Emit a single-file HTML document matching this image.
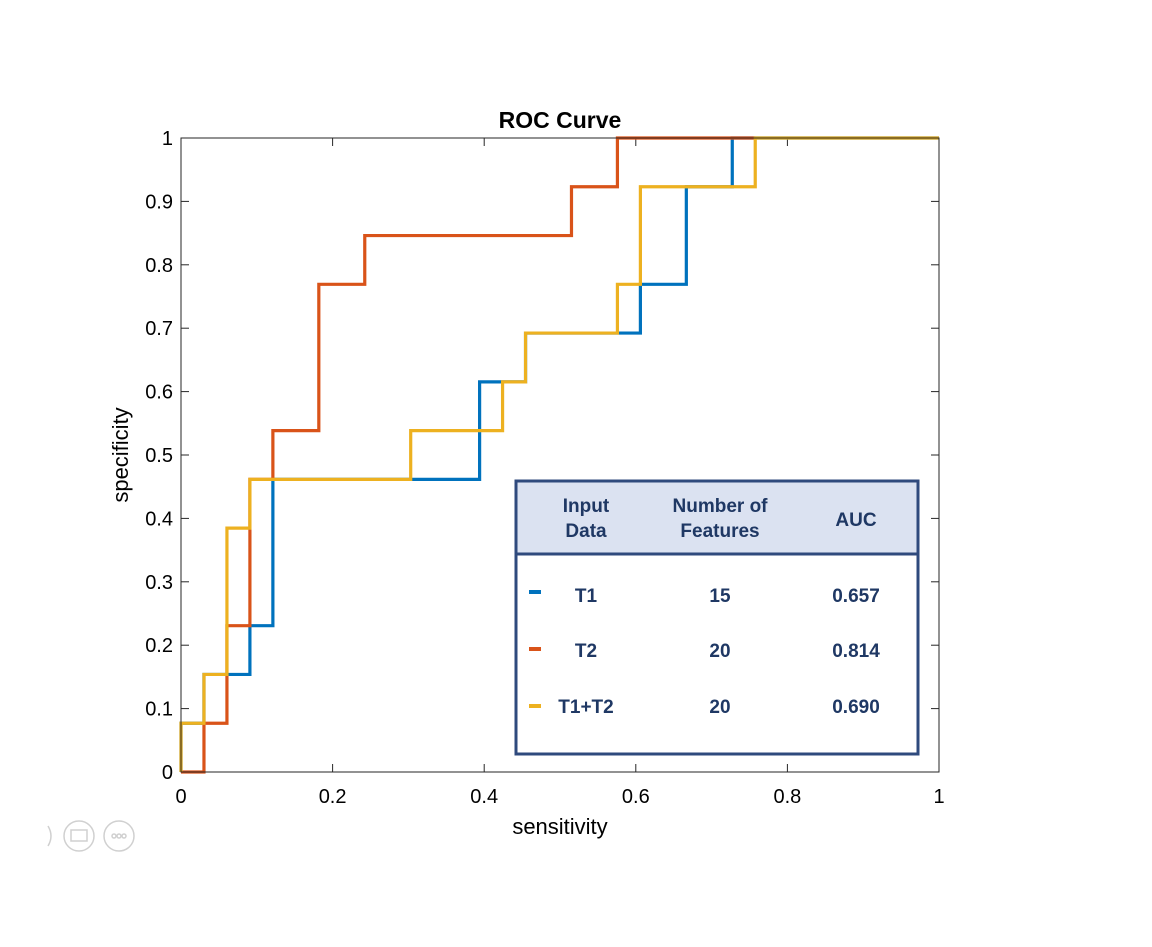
<!DOCTYPE html>
<html><head><meta charset="utf-8"><style>
body{margin:0;background:#fff;}
svg text{font-family:"Liberation Sans",sans-serif;}
</style></head><body>
<svg id="chart" width="1152" height="942" xmlns="http://www.w3.org/2000/svg">
<text x="560" y="128" text-anchor="middle" font-size="23" font-weight="bold">ROC Curve</text>
<g id="ticks"></g>
<g id="series"></g>
<rect x="181" y="138" width="758" height="634" fill="none" stroke="#262626" stroke-width="1"/>
<text x="560" y="834" text-anchor="middle" font-size="22">sensitivity</text>
<text transform="translate(128,455) rotate(-90)" text-anchor="middle" font-size="22">specificity</text>
<g font-weight="bold" fill="#1f3864">
<rect x="516" y="481" width="402" height="73" fill="#dbe2f1"/>
<rect x="516" y="481" width="402" height="273" fill="none" stroke="#2f4a7d" stroke-width="3"/>
<line x1="516" y1="554" x2="918" y2="554" stroke="#2f4a7d" stroke-width="3"/>
<text x="586" y="512" text-anchor="middle" font-size="19" fill="#1f3864">Input</text>
<text x="586" y="537" text-anchor="middle" font-size="19" fill="#1f3864">Data</text>
<text x="720" y="512" text-anchor="middle" font-size="19" fill="#1f3864">Number of</text>
<text x="720" y="537" text-anchor="middle" font-size="19" fill="#1f3864">Features</text>
<text x="856" y="526" text-anchor="middle" font-size="19" fill="#1f3864">AUC</text>
<rect x="529" y="590" width="12" height="4" fill="#0072bd"/>
<rect x="529" y="647" width="12" height="4" fill="#d95319"/>
<rect x="529" y="704" width="12" height="4" fill="#edb120"/>
<text x="586" y="602" text-anchor="middle" font-size="19" fill="#1f3864">T1</text>
<text x="720" y="602" text-anchor="middle" font-size="19" fill="#1f3864">15</text>
<text x="856" y="602" text-anchor="middle" font-size="19" fill="#1f3864">0.657</text>
<text x="586" y="657" text-anchor="middle" font-size="19" fill="#1f3864">T2</text>
<text x="720" y="657" text-anchor="middle" font-size="19" fill="#1f3864">20</text>
<text x="856" y="657" text-anchor="middle" font-size="19" fill="#1f3864">0.814</text>
<text x="586" y="713" text-anchor="middle" font-size="19" fill="#1f3864">T1+T2</text>
<text x="720" y="713" text-anchor="middle" font-size="19" fill="#1f3864">20</text>
<text x="856" y="713" text-anchor="middle" font-size="19" fill="#1f3864">0.690</text>
</g>
<g stroke="#d0d0d0" fill="none" stroke-width="1.5">
<path d="M48 826 Q54 836 48 846"/>
<circle cx="79" cy="836" r="15"/>
<rect x="71" y="830" width="16" height="11"/>
<circle cx="119" cy="836" r="15"/>
<circle cx="114" cy="836" r="2"/><circle cx="119" cy="836" r="2"/><circle cx="124" cy="836" r="2"/>
</g>
</svg>
<script>
const xTicks=[0,0.2,0.4,0.6,0.8,1];
const xTickLabels=["0","0.2","0.4","0.6","0.8","1"];
const yTicks=[0,0.1,0.2,0.3,0.4,0.5,0.6,0.7,0.8,0.9,1];
const yTickLabels=["0","0.1","0.2","0.3","0.4","0.5","0.6","0.7","0.8","0.9","1"];
// step coordinates in counts: x / 33, y / 13
const t1X=[0,0,1,1,3,3,4,4,13,13,14,14,15,15,20,20,22,22,24,24,33];
const t1Y=[0,1,1,2,2,3,3,6,6,8,8,8,8,9,9,10,10,12,12,13,13];
const t2X=[0,1,1,2,2,3,3,4,4,6,6,8,8,17,17,19,19,25];
const t2Y=[0,0,1,1,3,3,6,6,7,7,10,10,11,11,12,12,13,13];
const t12X=[0,0,1,1,2,2,3,3,10,10,14,14,15,15,19,19,20,20,25,25,33];
const t12Y=[0,1,1,2,2,5,5,6,6,7,7,8,8,9,9,10,10,12,12,13,13];
const NX=33, NY=13;
const sx=v=>181+v*758, sy=v=>772-v*634;
const NS="http://www.w3.org/2000/svg";
const tg=document.getElementById('ticks');
xTicks.forEach((t,i)=>{
  const l=document.createElementNS(NS,'line');
  l.setAttribute('x1',sx(t));l.setAttribute('x2',sx(t));l.setAttribute('y1',772);l.setAttribute('y2',764);
  l.setAttribute('stroke','#262626');
  
  
  tg.appendChild(l);
  const l2=document.createElementNS(NS,'line');
  l2.setAttribute('x1',sx(t));l2.setAttribute('x2',sx(t));l2.setAttribute('y1',138);l2.setAttribute('y2',146);
  l2.setAttribute('stroke','#262626');
  
  
  tg.appendChild(l2);
  const tx=document.createElementNS(NS,'text');
  tx.setAttribute('x',sx(t));tx.setAttribute('y',803);tx.setAttribute('text-anchor','middle');tx.setAttribute('font-size','20');
  tx.textContent=xTickLabels[i];
  
  
  tg.appendChild(tx);
});
yTicks.forEach((t,i)=>{
  const l=document.createElementNS(NS,'line');
  l.setAttribute('x1',181);l.setAttribute('x2',189);l.setAttribute('y1',sy(t));l.setAttribute('y2',sy(t));
  l.setAttribute('stroke','#262626');
  
  
  tg.appendChild(l);
  const l2=document.createElementNS(NS,'line');
  l2.setAttribute('x1',931);l2.setAttribute('x2',939);l2.setAttribute('y1',sy(t));l2.setAttribute('y2',sy(t));
  l2.setAttribute('stroke','#262626');
  
  
  tg.appendChild(l2);
  const tx=document.createElementNS(NS,'text');
  tx.setAttribute('x',173);tx.setAttribute('y',sy(t)+7);tx.setAttribute('text-anchor','end');tx.setAttribute('font-size','20');
  tx.textContent=yTickLabels[i];
  
  
  tg.appendChild(tx);
});
const sg=document.getElementById('series');
function draw(xs,ys,color,name){
  const p=document.createElementNS(NS,'polyline');
  p.setAttribute('points',xs.map((x,i)=>sx(x/NX)+','+sy(ys[i]/NY)).join(' '));
  p.setAttribute('fill','none');p.setAttribute('stroke',color);p.setAttribute('stroke-width','3.2');
  
  
  sg.appendChild(p);
}
draw(t1X,t1Y,'#0072bd','roc-line-t1');
draw(t2X,t2Y,'#d95319','roc-line-t2');
draw(t12X,t12Y,'#edb120','roc-line-t1-t2');
</script>
</body></html>
